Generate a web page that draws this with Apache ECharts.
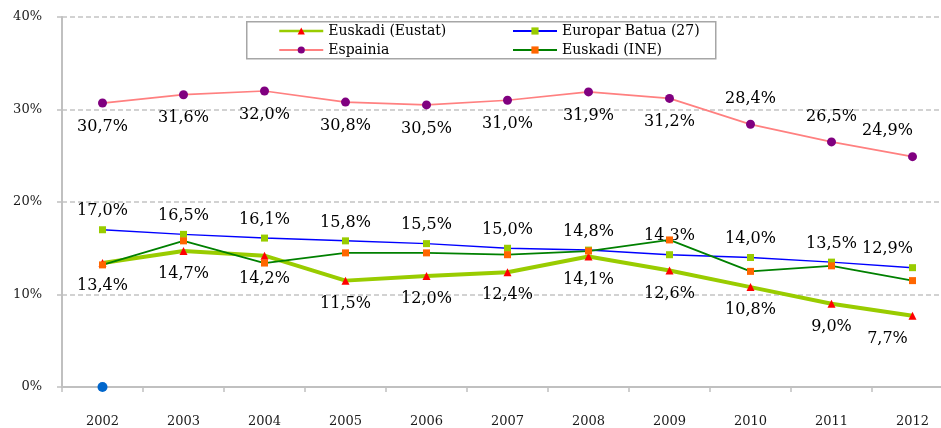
<!DOCTYPE html>
<html>
<head>
<meta charset="utf-8">
<script src="https://cdn.jsdelivr.net/npm/echarts@6/dist/echarts.min.js"></script>
<style>
  html, body { margin: 0; padding: 0; background: #ffffff; }
  #chart { width: 941px; height: 428px; }
</style>
</head>
<body>
<div id="chart"></div>
<script>
// Years on the category axis
const years = ['2002', '2003', '2004', '2005', '2006', '2007', '2008', '2009', '2010', '2011', '2012'];

// Rates in percent per series
const euskadiEustat = [13.4, 14.7, 14.2, 11.5, 12.0, 12.4, 14.1, 12.6, 10.8, 9.0, 7.7];
const europarBatua = [17.0, 16.5, 16.1, 15.8, 15.5, 15.0, 14.8, 14.3, 14.0, 13.5, 12.9];
const espainia = [30.7, 31.6, 32.0, 30.8, 30.5, 31.0, 31.9, 31.2, 28.4, 26.5, 24.9];
const euskadiIne = [13.2, 15.8, 13.4, 14.5, 14.5, 14.3, 14.7, 15.9, 12.5, 13.1, 11.5];
const baseline = [0, null, null, null, null, null, null, null, null, null, null];

// Y axis tick values
const yTicks = [0, 10, 20, 30, 40];

const FONT = 'DejaVu Serif';
const fmtPct = v => v.toFixed(1).replace('.', ',') + '%';

// Labelled points: the final year's label is pulled left so it stays inside the frame
function labelled(values, placeFn) {
  return values.map((v, i) => {
    const place = placeFn(v, i);
    if (i === values.length - 1) place.offset = [-25, 0];
    return { value: v, label: place };
  });
}

const chart = echarts.init(document.getElementById('chart'), null, { renderer: 'canvas' });

const labelText = {
  show: true,
  color: '#000000',
  fontFamily: FONT,
  fontSize: 16,
  formatter: p => fmtPct(p.value)
};

const legendCommon = {
  orient: 'vertical',
  top: 24,
  padding: 0, itemGap: 5,
  itemWidth: 44, itemHeight: 9,
  textStyle: { fontFamily: FONT, fontSize: 14, color: '#000', lineHeight: 14 }
};

const option = {
  animation: false,
  backgroundColor: '#ffffff',
  // plot area runs a little past the right edge of the canvas
  grid: { left: 62, width: 891, top: 17, bottom: 41, containLabel: false, outerBoundsMode: 'none' },
  legend: [
    Object.assign({
      data: [{ name: 'Euskadi (Eustat)', lineStyle: { width: 2.5 } }, 'Espainia'],
      left: 278
    }, legendCommon),
    Object.assign({ data: ['Europar Batua (27)', 'Euskadi (INE)'], left: 512 }, legendCommon)
  ],
  graphic: [
    {
      type: 'rect',
      left: 246, top: 21,
      shape: { width: 469, height: 37 },
      style: { fill: '#ffffff', stroke: '#a6a6a6', lineWidth: 1.5 },
      z: 0, zlevel: 0
    }
  ],
  xAxis: {
    type: 'category',
    data: years,
    boundaryGap: true,
    axisLine: { lineStyle: { color: '#c0c0c0', width: 2 } },
    axisTick: { show: true, length: 5, lineStyle: { color: '#c0c0c0', width: 1.5 } },
    axisLabel: { margin: 28, color: '#1a1a1a', fontFamily: FONT, fontSize: 13 },
    splitLine: { show: false }
  },
  yAxis: {
    type: 'value',
    min: yTicks[0], max: yTicks[yTicks.length - 1], interval: 10,
    axisLine: { show: true, lineStyle: { color: '#c0c0c0', width: 2 } },
    axisTick: { show: true, length: 5, lineStyle: { color: '#c0c0c0', width: 1.5 } },
    axisLabel: { margin: 20, color: '#1a1a1a', fontFamily: FONT, fontSize: 13, formatter: '{value}%' },
    splitLine: { show: true, lineStyle: { color: '#c4c4c4', type: [5, 3], width: 1.5 } }
  },
  series: [
    {
      name: 'Euskadi (Eustat)',
      type: 'line',
      data: labelled(euskadiEustat, () => ({ position: 'bottom', distance: 11 })),
      symbol: 'triangle', symbolSize: 8,
      itemStyle: { color: '#ff0000' },
      lineStyle: { color: '#99cc00', width: 4 },
      label: labelText,
      z: 3
    },
    {
      name: 'Europar Batua (27)',
      type: 'line',
      data: labelled(europarBatua, () => ({ position: 'top', distance: 7 })),
      symbol: 'rect', symbolSize: 7,
      itemStyle: { color: '#99cc00' },
      lineStyle: { color: '#0000ff', width: 1.5 },
      label: labelText,
      z: 4
    },
    {
      name: 'Espainia',
      type: 'line',
      data: labelled(espainia, v => (v < 30
        ? { position: 'top', distance: 13 }
        : { position: 'bottom', distance: 11 })),
      symbol: 'circle', symbolSize: 9,
      itemStyle: { color: '#800080' },
      lineStyle: { color: '#ff8080', width: 1.75 },
      label: labelText,
      z: 5
    },
    {
      name: 'Euskadi (INE)',
      type: 'line',
      data: euskadiIne,
      symbol: 'rect', symbolSize: 7,
      itemStyle: { color: '#ff6600' },
      lineStyle: { color: '#008000', width: 1.75 },
      label: { show: false },
      z: 6
    },
    {
      name: 'base',
      type: 'line',
      data: baseline,
      symbol: 'circle', symbolSize: 10,
      itemStyle: { color: '#0066cc' },
      lineStyle: { width: 0 },
      z: 7
    }
  ]
};

chart.setOption(option);
</script>
</body>
</html>
